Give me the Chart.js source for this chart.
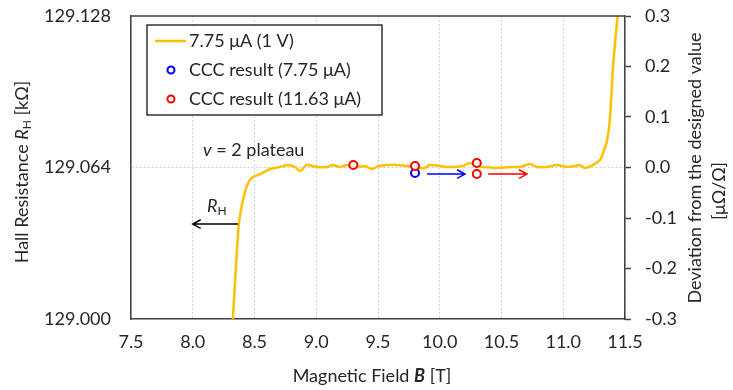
<!DOCTYPE html>
<html>
<head>
<meta charset="utf-8">
<script src="https://cdn.jsdelivr.net/npm/chart.js@4/dist/chart.umd.min.js"></script>
<style>
  body { margin: 0; background: #fff; }
  #wrap { width: 733px; height: 390px; }
</style>
</head>
<body>
<div id="wrap"><canvas id="hallChart" width="733" height="390"></canvas></div>
<script>
// --- data ---
const fieldT = [8.32, 8.358, 8.374, 8.407, 8.447, 8.488, 8.545, 8.626, 8.706, 8.771, 8.828, 8.868, 8.925,
  9.006, 9.087, 9.136, 9.192, 9.249, 9.33, 9.393, 9.452, 9.506, 9.587, 9.654, 9.735, 9.816, 9.879, 9.919,
  10.002, 10.059, 10.107, 10.188, 10.245, 10.302, 10.35, 10.407, 10.464, 10.569, 10.65, 10.731, 10.787,
  10.868, 10.949, 11.03, 11.095, 11.136, 11.176, 11.241, 11.298, 11.322, 11.355, 11.379, 11.403, 11.427, 11.443];
const deviation = [-0.32, -0.163, -0.11, -0.064, -0.031, -0.019, -0.013, -0.003, 0.001, 0.005, 0.001, -0.007, 0.005,
  0.001, 0.001, 0.005, 0.001, 0.005, 0.001, 0.003, -0.003, 0.003, 0.005, 0.005, 0.003, -0.001, -0.001, 0.005,
  0.003, 0.001, 0.001, 0.003, 0.009, 0.003, 0.001, 0.0, -0.001, 0.001, 0.001, 0.007, 0.001,
  0.001, 0.005, 0.001, 0.003, 0.005, -0.001, 0.005, 0.015, 0.029, 0.054, 0.1, 0.199, 0.267, 0.305];

const ccc775Field = [9.8];
const ccc775Dev = [-0.011];
const ccc1163Field = [9.3, 9.8, 10.3, 10.3];
const ccc1163Dev = [0.005, 0.003, 0.009, -0.013];

const xTicks = [7.5, 8.0, 8.5, 9.0, 9.5, 10.0, 10.5, 11.0, 11.5];
const leftTicks = [129.000, 129.064, 129.128];
const rightTicks = [-0.3, -0.2, -0.1, 0.0, 0.1, 0.2, 0.3];

const seriesLabels = ['7.75 μA (1 V)', 'CCC result (7.75 μA)', 'CCC result (11.63 μA)'];

const FONT = 'Lato, "Noto Sans", sans-serif';
const TEXT = '#262626';
const AXIS = '#404040';

const toPoints = (xs, ys) => xs.map((v, i) => ({ x: v, y: ys[i] }));

function drawRuns(ctx, runs, cx, cy, rot, align) {
    ctx.save();
    ctx.translate(cx, cy);
    ctx.rotate(rot);
    let total = 0;
    runs.forEach(r => { ctx.font = r.font; r.w = ctx.measureText(r.text).width; total += r.w; });
    let px = align === 'left' ? 0 : -total / 2;
    ctx.textBaseline = 'middle';
    ctx.textAlign = 'left';
    ctx.fillStyle = TEXT;
    runs.forEach(r => {
        ctx.font = r.font;
        ctx.fillText(r.text, px, r.dy || 0);
        px += r.w;
    });
    ctx.restore();
}

function arrow(ctx, x1, y1, x2, y2, color) {
    const ang = Math.atan2(y2 - y1, x2 - x1);
    const h = 9;
    ctx.save();
    ctx.strokeStyle = color;
    ctx.lineWidth = 1.5;
    ctx.beginPath();
    ctx.moveTo(x1, y1);
    ctx.lineTo(x2, y2);
    ctx.moveTo(x2 - h * Math.cos(ang - 0.5), y2 - h * Math.sin(ang - 0.5));
    ctx.lineTo(x2, y2);
    ctx.lineTo(x2 - h * Math.cos(ang + 0.5), y2 - h * Math.sin(ang + 0.5));
    ctx.stroke();
    ctx.restore();
}

const overlay = {
    id: 'overlay',
    afterDraw(chart) {
        const { ctx, chartArea: a, scales } = chart;
        const x = scales.x, y2 = scales.y2;
        ctx.save();

        // top frame line
        ctx.strokeStyle = AXIS;
        ctx.lineWidth = 1.5;
        ctx.beginPath();
        ctx.moveTo(a.left, a.top);
        ctx.lineTo(a.right, a.top);
        ctx.stroke();

        // arrows
        arrow(ctx, x.getPixelForValue(8.366), y2.getPixelForValue(-0.112), x.getPixelForValue(8.0), y2.getPixelForValue(-0.112), '#000000');
        arrow(ctx, x.getPixelForValue(9.897), y2.getPixelForValue(-0.013), x.getPixelForValue(10.204), y2.getPixelForValue(-0.013), '#0000ff');
        arrow(ctx, x.getPixelForValue(10.391), y2.getPixelForValue(-0.013), x.getPixelForValue(10.706), y2.getPixelForValue(-0.013), '#ff0000');

        // annotations
        drawRuns(ctx, [
            { text: 'v', font: 'italic 18px ' + FONT },
            { text: ' = 2 plateau', font: '18px ' + FONT }
        ], x.getPixelForValue(8.083), y2.getPixelForValue(0.035), 0, 'left');
        drawRuns(ctx, [
            { text: 'R', font: 'italic 18px ' + FONT },
            { text: 'H', font: '12px ' + FONT, dy: 5 }
        ], x.getPixelForValue(8.115), y2.getPixelForValue(-0.076), 0, 'left');

        // axis titles
        drawRuns(ctx, [
            { text: 'Magnetic Field ', font: '18px ' + FONT },
            { text: 'B', font: 'italic bold 18px ' + FONT },
            { text: ' [T]', font: '18px ' + FONT }
        ], 372, 376, 0);
        drawRuns(ctx, [
            { text: 'Hall Resistance ', font: '18px ' + FONT },
            { text: 'R', font: 'italic 18px ' + FONT },
            { text: 'H', font: '12px ' + FONT, dy: 5 },
            { text: ' [kΩ]', font: '18px ' + FONT }
        ], 22, 172, -Math.PI / 2);
        drawRuns(ctx, [{ text: 'Deviation from the designed value', font: '18px ' + FONT }], 695, 168, -Math.PI / 2);
        drawRuns(ctx, [{ text: '[μΩ/Ω]', font: '18px ' + FONT }], 719, 191, -Math.PI / 2);

        // legend box
        const lx = 147, ly = 25, lw = 235, lh = 90;
        ctx.fillStyle = '#ffffff';
        ctx.fillRect(lx, ly, lw, lh);
        ctx.strokeStyle = '#000000';
        ctx.lineWidth = 1.2;
        ctx.strokeRect(lx, ly, lw, lh);
        const rows = [41, 70, 99];
        chart.data.datasets.forEach((ds, i) => {
            const ry = rows[i];
            if (ds.showLine === false) {
                ctx.beginPath();
                ctx.arc(171, ry, 3.5, 0, Math.PI * 2);
                ctx.strokeStyle = ds.borderColor;
                ctx.lineWidth = 2;
                ctx.stroke();
            } else {
                ctx.beginPath();
                ctx.moveTo(155, ry);
                ctx.lineTo(186, ry);
                ctx.strokeStyle = ds.borderColor;
                ctx.lineWidth = 2.5;
                ctx.stroke();
            }
            drawRuns(ctx, [{ text: ds.label, font: '18px ' + FONT }], 189, ry, 0, 'left');
        });
        ctx.restore();
    }
};

const setTicks = list => scale => { scale.ticks = list.map(v => ({ value: v })); };
const fixSide = w => s => { s.width = w; s.paddingTop = 0; s.paddingBottom = 0; };

new Chart(document.getElementById('hallChart'), {
    type: 'line',
    data: {
        datasets: [
            {
                label: seriesLabels[0],
                data: toPoints(fieldT, deviation),
                yAxisID: 'y2',
                borderColor: '#ffc000',
                borderWidth: 2.5,
                pointRadius: 0,
                tension: 0.3,
                order: 2
            },
            {
                label: seriesLabels[1],
                data: toPoints(ccc775Field, ccc775Dev),
                yAxisID: 'y2',
                showLine: false,
                borderColor: '#0000ff',
                backgroundColor: '#ffffff',
                pointRadius: 4,
                pointBorderWidth: 2,
                order: 1
            },
            {
                label: seriesLabels[2],
                data: toPoints(ccc1163Field, ccc1163Dev),
                yAxisID: 'y2',
                showLine: false,
                borderColor: '#ff0000',
                backgroundColor: '#ffffff',
                pointRadius: 4,
                pointBorderWidth: 2,
                order: 0
            }
        ]
    },
    options: {
        responsive: false,
        animation: false,
        layout: { padding: { top: 16, left: 0, right: 0, bottom: 0 } },
        plugins: { legend: { display: false }, tooltip: { enabled: false } },
        scales: {
            x: {
                type: 'linear',
                min: 7.5, max: 11.5,
                afterBuildTicks: setTicks(xTicks),
                afterFit: s => { s.height = 71; s.paddingLeft = 0; s.paddingRight = 0; },
                ticks: { padding: 12, color: TEXT, font: { family: FONT, size: 18 }, callback: v => v.toFixed(1) },
                grid: { color: '#c9d2e0', lineWidth: 1, drawTicks: false },
                border: { color: AXIS, width: 1.5, dash: [2, 2] }
            },
            y: {
                position: 'left',
                min: 129.000, max: 129.128,
                afterBuildTicks: setTicks(leftTicks),
                afterFit: fixSide(131),
                ticks: { padding: 20, color: TEXT, font: { family: FONT, size: 18 }, callback: v => v.toFixed(3) },
                grid: {
                    drawTicks: false,
                    color: c => c.index === 1 ? '#cccccc' : 'rgba(0,0,0,0)'
                },
                border: { color: AXIS, width: 1.5, dash: [2, 2] }
            },
            y2: {
                position: 'right',
                min: -0.3, max: 0.3,
                afterBuildTicks: setTicks(rightTicks),
                afterFit: fixSide(108),
                ticks: { padding: 14, color: TEXT, font: { family: FONT, size: 18 }, callback: v => v.toFixed(1) },
                grid: { drawOnChartArea: false, drawTicks: true, tickLength: 6, tickColor: AXIS, tickWidth: 1.5 },
                border: { color: AXIS, width: 1.5 }
            }
        }
    },
    plugins: [overlay]
});
</script>
</body>
</html>
